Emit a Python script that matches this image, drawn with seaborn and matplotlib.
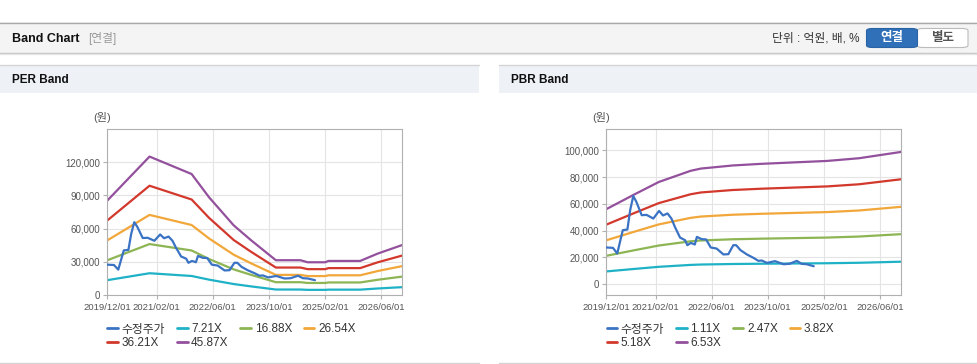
import pandas as pd
import seaborn as sns
import matplotlib.pyplot as plt
import matplotlib.dates as mdates
from matplotlib.lines import Line2D
from matplotlib.patches import Rectangle, FancyBboxPatch
from matplotlib.ticker import FuncFormatter

sns.set_style('white')
plt.rcParams['font.family'] = ['Liberation Sans', 'Noto Sans CJK KR']

# stock price (수정주가), same in both panels
price_dates = ['2019-12-01', '2020-01-28', '2020-03-05', '2020-04-22', '2020-06-01',
               '2020-06-25', '2020-07-22', '2020-08-18', '2020-10-03', '2020-11-15',
               '2021-01-12', '2021-03-03', '2021-04-06', '2021-05-15', '2021-06-18',
               '2021-07-18', '2021-09-01', '2021-10-15', '2021-11-03', '2021-12-04',
               '2022-01-07', '2022-01-25', '2022-03-07', '2022-04-15', '2022-05-25',
               '2022-07-15', '2022-09-12', '2022-10-25', '2022-12-07', '2023-01-01',
               '2023-02-07', '2023-04-04', '2023-06-01', '2023-07-13', '2023-08-10',
               '2023-09-25', '2023-12-04', '2024-02-15', '2024-04-07', '2024-06-10',
               '2024-07-22', '2024-09-04', '2024-11-04']
price_vals = [27400, 27100, 22900, 40300, 40800, 55200, 65800, 61400, 51500, 51700,
              49000, 54700, 51300, 52800, 49000, 42800, 34800, 32800, 29100, 30800,
              29600, 35300, 33600, 33400, 27400, 26600, 22200, 22400, 29100, 29100,
              25400, 22200, 19600, 17400, 17700, 15900, 17200, 14900, 15200, 17400,
              15200, 14900, 13400]

# PER band: implied EPS and multiples
eps_dates = ['2019-12-01', '2020-12-01', '2021-12-01', '2022-05-01', '2022-12-01',
             '2023-05-01', '2023-12-01', '2024-07-01', '2024-09-01', '2025-02-01',
             '2025-03-01', '2025-12-01', '2026-05-01', '2026-12-01']
eps_vals = [1860, 2727, 2383, 1925, 1371, 1077, 685, 685, 645, 645, 671, 671, 815, 985]
per_multiples = [7.21, 16.88, 26.54, 36.21, 45.87]

# PBR band: implied BPS and multiples
bps_dates = ['2019-12-01', '2020-08-01', '2021-03-01', '2021-12-01', '2022-03-01',
             '2022-12-01', '2023-08-01', '2025-03-01', '2025-12-01', '2026-12-01']
bps_vals = [8576, 10260, 11685, 12956, 13216, 13568, 13752, 14089, 14395, 15115]
pbr_multiples = [1.11, 2.47, 3.82, 5.18, 6.53]

price_color = '#3b73c4'
band_colors = ['#1fb2c6', '#8db553', '#f2a73a', '#d2382c', '#93509c']
tick_dates = ['2019-12-01', '2021-02-01', '2022-06-01', '2023-10-01', '2025-02-01', '2026-06-01']

W, H = 978, 364
fig = plt.figure(figsize=(W / 100, H / 100), dpi=100)


def fx(x):
    return x / W


def fy(y):
    return 1 - y / H


def rect(x0, y0, x1, y1, color):
    fig.add_artist(Rectangle((fx(x0), fy(y1)), (x1 - x0) / W, (y1 - y0) / H,
                             transform=fig.transFigure, facecolor=color,
                             edgecolor='none', zorder=0))


def hline(x0, x1, y, color):
    fig.add_artist(Line2D([fx(x0), fx(x1)], [fy(y), fy(y)], transform=fig.transFigure,
                          color=color, lw=1, zorder=1))


# page header
rect(0, 22.5, W, 53, '#f4f4f4')
hline(0, W, 22.5, '#a9a9a9')
hline(0, W, 53, '#c2c2c2')
hline(0, W, 54.2, '#e6e6e6')
fig.text(fx(12), fy(38.5), 'Band Chart', fontsize=9, fontweight='bold', color='#111111', va='center')
fig.text(fx(88), fy(38.5), '[연결]', fontsize=8.5, color='#999999', va='center')
fig.text(fx(860), fy(38.5), '단위 : 억원, 배, %', fontsize=8.5, color='#333333', va='center', ha='right')
fig.add_artist(FancyBboxPatch((fx(917), fy(47.5)), (968 - 917) / W, 19 / H,
                              boxstyle='round,pad=0,rounding_size=0.006',
                              transform=fig.transFigure, facecolor='white',
                              edgecolor='#bbbbbb', lw=0.8))
fig.add_artist(FancyBboxPatch((fx(866.5), fy(47.5)), (917.5 - 866.5) / W, 19 / H,
                              boxstyle='round,pad=0,rounding_size=0.006',
                              transform=fig.transFigure, facecolor='#3070b8',
                              edgecolor='#2a63a5', lw=0.8))
fig.text(fx(892), fy(38.5), '연결', fontsize=9, fontweight='bold', color='white', ha='center', va='center')
fig.text(fx(943), fy(38.5), '별도', fontsize=9, fontweight='bold', color='#555555', ha='center', va='center')

# panel frames
for x0, x1, title in [(0, 479, 'PER Band'), (499, W, 'PBR Band')]:
    rect(x0, 64.5, x1, 93, '#eef2f7')
    hline(x0, x1, 64.5, '#d4d4d4')
    hline(x0, x1, 362.5, '#d4d4d4')
    fig.text(fx(x0 + 12), fy(80), title, fontsize=8.5, fontweight='bold', color='#111111', va='center')


def band_chart(rect_px, base_dates, base_vals, multiples, ylim, yticks, ylabel_x, legend_x):
    x0, y0, x1, y1 = rect_px
    ax = fig.add_axes([fx(x0), fy(y1), (x1 - x0) / W, (y1 - y0) / H])
    base = pd.Series(base_vals, index=pd.to_datetime(base_dates))
    labels = ['수정주가']
    for m, c in zip(multiples, band_colors):
        sns.lineplot(x=base.index, y=base.values * m, color=c, lw=1.6, ax=ax, legend=False)
        labels.append(f'{m:.2f}X')
    sns.lineplot(x=pd.to_datetime(price_dates), y=price_vals, color=price_color, lw=1.6,
                 ax=ax, legend=False, zorder=5)

    ax.set_xlim(pd.Timestamp('2019-12-01'), pd.Timestamp('2026-12-01'))
    ax.set_ylim(*ylim)
    ax.set_xticks(pd.to_datetime(tick_dates))
    ax.xaxis.set_major_formatter(mdates.DateFormatter('%Y/%m/%d'))
    ax.set_yticks(yticks)
    ax.yaxis.set_major_formatter(FuncFormatter(lambda v, p: f'{int(v):,}'))
    ax.set_xlabel('')
    ax.set_ylabel('')
    ax.grid(True, color='#e4e4e4', lw=0.8)
    ax.set_axisbelow(True)
    for s in ax.spines.values():
        s.set_color('#b0b0b0')
        s.set_linewidth(0.8)
    ax.tick_params(axis='both', which='major', length=3, width=0.8, color='#b0b0b0',
                   labelcolor='#555555', labelsize=7, pad=2, direction='out',
                   bottom=True, left=True)
    ax.tick_params(axis='x', labelsize=6.8, pad=3)
    fig.text(fx(ylabel_x), fy(118), '(원)', fontsize=8, color='#555555', ha='center', va='center')

    colors = [price_color] + band_colors
    handles = [Line2D([], [], color=c, lw=2) for c in colors]
    order = [0, 4, 1, 5, 2, 3]
    ax.legend([handles[i] for i in order], [labels[i] for i in order], ncol=4,
              loc='upper left', bbox_to_anchor=(fx(legend_x), fy(323.5)),
              bbox_transform=fig.transFigure, frameon=False, fontsize=8.5,
              handlelength=0.9, handletextpad=0.3, columnspacing=1.0,
              borderpad=0, borderaxespad=0, labelspacing=0.12,
              labelcolor='#333333')
    return ax


band_chart((107.3, 129, 402.3, 295), eps_dates, eps_vals, per_multiples,
           (0, 150000), [0, 30000, 60000, 90000, 120000], 102, 107.5)
band_chart((606.3, 128.5, 901, 294.5), bps_dates, bps_vals, pbr_multiples,
           (-7700, 116200), [0, 20000, 40000, 60000, 80000, 100000], 601, 606.5)

fig.savefig('out.png', dpi=100)
